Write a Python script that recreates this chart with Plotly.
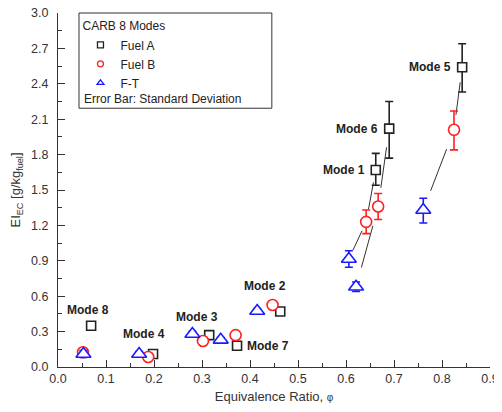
import plotly.graph_objects as go

modes = ["Mode 1", "Mode 2", "Mode 3", "Mode 4", "Mode 5", "Mode 6", "Mode 7", "Mode 8"]

phi_A = [0.662, 0.463, 0.315, 0.198, 0.842, 0.690, 0.373, 0.069]
ei_A = [1.67, 0.47, 0.27, 0.11, 2.54, 2.02, 0.18, 0.35]
errp_A = [0.14, 0.02, 0.02, 0.02, 0.20, 0.23, 0.02, 0.0]
errm_A = [0.13, 0.02, 0.02, 0.02, 0.21, 0.25, 0.02, 0.0]

phi_B = [0.642, 0.447, 0.302, 0.188, 0.825, 0.667, 0.370, 0.052]
ei_B = [1.23, 0.525, 0.22, 0.085, 2.01, 1.36, 0.27, 0.125]
errp_B = [0.10, 0.01, 0.01, 0.02, 0.16, 0.11, 0.01, 0.02]
errm_B = [0.10, 0.01, 0.01, 0.02, 0.17, 0.11, 0.01, 0.02]

phi_FT = [0.606, 0.415, 0.280, 0.169, 0.761, 0.621, 0.339, 0.053]
ei_FT = [0.915, 0.475, 0.28, 0.11, 1.33, 0.68, 0.23, 0.11]
errp_FT = [0.07, 0.02, 0.02, 0.02, 0.10, 0.04, 0.02, 0.03]
errm_FT = [0.07, 0.02, 0.02, 0.02, 0.11, 0.04, 0.02, 0.03]

x_ticks = [0.0, 0.1, 0.2, 0.3, 0.4, 0.5, 0.6, 0.7, 0.8, 0.9]
y_ticks = [0.0, 0.3, 0.6, 0.9, 1.2, 1.5, 1.8, 2.1, 2.4, 2.7, 3.0]

linked_modes = [0, 4, 5]  # Mode 1, 5, 6 connected by lines

fig = go.Figure()

# connecting lines
for i in linked_modes:
    for (xa, ya, xb, yb) in [(phi_A[i], ei_A[i], phi_B[i], ei_B[i]),
                             (phi_B[i], ei_B[i], phi_FT[i], ei_FT[i])]:
        t0, t1 = 0.24, 0.76
        fig.add_trace(go.Scatter(
            x=[xa + t0 * (xb - xa), xa + t1 * (xb - xa)],
            y=[ya + t0 * (yb - ya), ya + t1 * (yb - ya)],
            mode="lines", line=dict(color="#333333", width=1),
            showlegend=False, hoverinfo="skip"))

def add_series(x, y, ep, em, color, symbol, size):
    fig.add_trace(go.Scatter(
        x=x, y=y, mode="markers", showlegend=False,
        marker=dict(symbol=symbol, size=size, color="white",
                    line=dict(color=color, width=1.6)),
        error_y=dict(type="data", symmetric=False, array=ep, arrayminus=em,
                     color=color, thickness=1.6, width=4)))

add_series(phi_A, ei_A, errp_A, errm_A, "#222222", "square", 9)
add_series(phi_B, ei_B, errp_B, errm_B, "#ff2020", "circle", 11)
add_series(phi_FT, ei_FT, errp_FT, errm_FT, "#1a1aff", "triangle-up", 13)

# legend-only traces
for name, color, symbol in [("Fuel A", "#222222", "square"),
                            ("Fuel B", "#ff2020", "circle"),
                            ("F-T", "#1a1aff", "triangle-up")]:
    fig.add_trace(go.Scatter(x=[None], y=[None], mode="markers", name=name,
                             marker=dict(symbol=symbol, size=6, color="white",
                                         line=dict(color=color, width=1.3))))

# mode labels
label_pos = {
    "Mode 5": (0.822, 2.54, "right"),
    "Mode 6": (0.670, 2.02, "right"),
    "Mode 1": (0.643, 1.67, "right"),
    "Mode 2": (0.432, 0.69, "center"),
    "Mode 3": (0.290, 0.42, "center"),
    "Mode 7": (0.390, 0.175, "left"),
    "Mode 4": (0.180, 0.28, "center"),
    "Mode 8": (0.062, 0.48, "center"),
}
for m, (lx, ly, anc) in label_pos.items():
    fig.add_annotation(x=lx, y=ly, text="<b>" + m + "</b>", showarrow=False,
                       xanchor=anc, yanchor="middle",
                       font=dict(family="Liberation Sans, Arial", size=12, color="#222222"))

# legend box and extra line
fig.add_shape(type="rect", xref="paper", yref="paper",
              x0=0.0486, x1=0.495, y0=0.731, y1=1.0,
              line=dict(color="#333333", width=1))
fig.add_annotation(xref="paper", yref="paper", x=0.056, y=0.757,
                   text="Error Bar: Standard Deviation", showarrow=False,
                   xanchor="left", yanchor="middle",
                   font=dict(family="Liberation Sans, Arial", size=12, color="#222222"))

fig.update_layout(
    width=494, height=404,
    margin=dict(l=50, r=12, t=5, b=45, autoexpand=False),
    paper_bgcolor="white", plot_bgcolor="white",
    font=dict(family="Liberation Sans, Arial", size=12, color="#333333"),
    showlegend=True,
    legend=dict(x=0.052, y=0.995, xanchor="left", yanchor="top",
                bgcolor="rgba(0,0,0,0)", borderwidth=0,
                title=dict(text="CARB 8 Modes", font=dict(size=12, color="#222222")),
                font=dict(size=12, color="#222222"),
                itemsizing="trace", itemwidth=30, tracegroupgap=0),
    xaxis=dict(range=[0, 0.9], tickvals=x_ticks, automargin=False,
               ticktext=[f"{v:.1f}" for v in x_ticks],
               showgrid=False, zeroline=False, showline=True,
               linecolor="#333333", linewidth=1.2,
               ticks="inside", ticklen=7, tickcolor="#333333",
               tickfont=dict(size=12.5), ticklabeloverflow="allow",
               minor=dict(dtick=0.05, ticks="inside", ticklen=4, tickcolor="#333333"),
               title=dict(text="Equivalence Ratio, <span style='font-size:10px'>φ</span>",
                          font=dict(size=13, color="#333333"), standoff=6)),
    yaxis=dict(range=[0, 3.0], tickvals=y_ticks, automargin=False,
               ticktext=[f"{v:.1f}" for v in y_ticks],
               showgrid=False, zeroline=False, showline=True,
               linecolor="#333333", linewidth=1.2,
               ticks="inside", ticklen=7, tickcolor="#333333",
               tickfont=dict(size=12.5), ticklabelstandoff=6, ticklabeloverflow="allow",
               minor=dict(dtick=0.15, ticks="inside", ticklen=4, tickcolor="#333333"),
               title=dict(text="EI<sub>EC</sub> [g/kg<sub>fuel</sub>]",
                          font=dict(size=13, color="#333333"), standoff=12)),
)

fig.write_html("out.html")
